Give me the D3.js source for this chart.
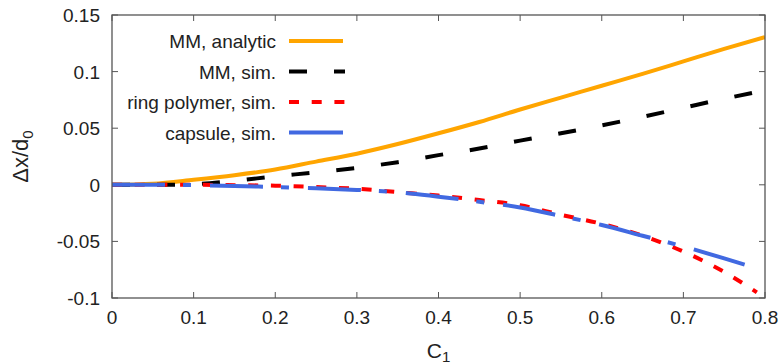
<!DOCTYPE html>
<html>
<head>
<meta charset="utf-8">
<script src="https://cdn.jsdelivr.net/npm/d3@7"></script>
<style>
  html, body { margin: 0; padding: 0; background: #fff; }
  svg { display: block; font-family: "Liberation Sans", Arial, Helvetica, sans-serif; }
</style>
</head>
<body>
<div id="chart"></div>
<script>
// C1 values
const c1 = [0, 0.05, 0.1, 0.15, 0.2, 0.25, 0.3, 0.35, 0.4, 0.45, 0.5, 0.55, 0.6, 0.65, 0.7, 0.75, 0.8];
const c1Ring = [0, 0.05, 0.1, 0.15, 0.2, 0.25, 0.3, 0.35, 0.4, 0.45, 0.5, 0.55, 0.6, 0.65, 0.7, 0.75, 0.79];
const c1Caps = [0, 0.05, 0.1, 0.15, 0.2, 0.25, 0.3, 0.35, 0.4, 0.45, 0.5, 0.55, 0.6, 0.65, 0.7, 0.75, 0.785];

// Δx/d0 values
const mmAnalytic = [0, 0.001, 0.0045, 0.0085, 0.0135, 0.0205, 0.0275, 0.036, 0.0455, 0.0555, 0.0665, 0.077, 0.0875, 0.098, 0.109, 0.120, 0.1305];
const mmSim = [0, 0, 0.0005, 0.0035, 0.0075, 0.011, 0.015, 0.020, 0.0262, 0.032, 0.039, 0.0455, 0.0525, 0.060, 0.068, 0.076, 0.0835];
const ringSim = [0, 0, 0, -0.0003, -0.0008, -0.002, -0.0035, -0.0065, -0.0095, -0.0135, -0.018, -0.0265, -0.0345, -0.045, -0.059, -0.077, -0.095];
const capsSim = [0, 0, -0.0003, -0.001, -0.002, -0.003, -0.0045, -0.0065, -0.0105, -0.015, -0.020, -0.0275, -0.0355, -0.045, -0.0545, -0.065, -0.0727];

const xTicks = [0, 0.1, 0.2, 0.3, 0.4, 0.5, 0.6, 0.7, 0.8];
const yTicks = [-0.1, -0.05, 0, 0.05, 0.1, 0.15];

const series = [
  { name: 'MM, analytic', xs: c1, ys: mmAnalytic, color: '#ffa500', dash: null },
  { name: 'MM, sim.', xs: c1, ys: mmSim, color: '#000000', dash: '18,27' },
  { name: 'ring polymer, sim.', xs: c1Ring, ys: ringSim, color: '#ff0000', dash: '10,12.7' },
  { name: 'capsule, sim.', xs: c1Caps, ys: capsSim, color: '#4169e1', dash: '53,18,8,19' }
];

const width = 782, height = 364;
const margin = { top: 15, right: 17, bottom: 66, left: 112 };

const svg = d3.select('#chart').append('svg')
  .attr('width', width)
  .attr('height', height);

const x = d3.scaleLinear().domain([0, 0.8]).range([margin.left, width - margin.right]);
const y = d3.scaleLinear().domain([-0.1, 0.15]).range([height - margin.bottom, margin.top]);

const frameColor = '#555';
const textColor = '#222';
const fs = 19;

svg.append('clipPath').attr('id', 'clip')
  .append('rect')
  .attr('x', x(0)).attr('y', y(0.15))
  .attr('width', x(0.8) - x(0)).attr('height', y(-0.1) - y(0.15));

// ticks (inward, mirrored)
const tl = 6;
const ticks = svg.append('g').attr('stroke', frameColor).attr('stroke-width', 1);
xTicks.forEach(t => {
  ticks.append('line').attr('x1', x(t)).attr('x2', x(t)).attr('y1', y(-0.1)).attr('y2', y(-0.1) - tl);
  ticks.append('line').attr('x1', x(t)).attr('x2', x(t)).attr('y1', y(0.15)).attr('y2', y(0.15) + tl);
});
yTicks.forEach(t => {
  ticks.append('line').attr('x1', x(0)).attr('x2', x(0) + tl).attr('y1', y(t)).attr('y2', y(t));
  ticks.append('line').attr('x1', x(0.8)).attr('x2', x(0.8) - tl).attr('y1', y(t)).attr('y2', y(t));
});

// tick labels (plain hyphen for negatives)
svg.append('g').selectAll('text').data(xTicks).join('text')
  .attr('x', d => x(d)).attr('y', height - margin.bottom + 26)
  .attr('text-anchor', 'middle').attr('font-size', fs).attr('fill', textColor)
  .text(d => String(d));
svg.append('g').selectAll('text').data(yTicks).join('text')
  .attr('x', margin.left - 12).attr('y', d => y(d) + 7)
  .attr('text-anchor', 'end').attr('font-size', fs).attr('fill', textColor)
  .text(d => String(d));

// axis titles
const xl = svg.append('text')
  .attr('x', x(0.4)).attr('y', 358)
  .attr('text-anchor', 'middle').attr('font-size', 21).attr('fill', textColor);
xl.append('tspan').text('C');
xl.append('tspan').attr('font-size', 15).attr('dy', 4).text('1');

const yl = svg.append('text')
  .attr('transform', `translate(28,${(y(-0.1) + y(0.15)) / 2}) rotate(-90)`)
  .attr('text-anchor', 'middle').attr('font-size', 22).attr('fill', textColor);
yl.append('tspan').text('Δx/d');
yl.append('tspan').attr('font-size', 15).attr('dy', 5).text('0');

// curves
const lines = svg.append('g').attr('clip-path', 'url(#clip)');
series.forEach(s => {
  const pts = s.xs.map((v, i) => [v, s.ys[i]]);
  lines.append('path')
    .datum(pts)
    .attr('fill', 'none')
    .attr('stroke', s.color)
    .attr('stroke-width', 4)
    .attr('stroke-dasharray', s.dash)
    .attr('d', d3.line().x(d => x(d[0])).y(d => y(d[1])).curve(d3.curveMonotoneX));
});

// legend (capsule sample drawn solid, as in the original key)
const legend = svg.append('g');
series.forEach((s, i) => {
  const ly = 41 + i * 30.5;
  const solidKey = !s.dash || s.dash.split(',').length > 2;
  legend.append('text')
    .attr('x', 276).attr('y', ly + 7)
    .attr('text-anchor', 'end').attr('font-size', fs).attr('fill', textColor)
    .text(s.name);
  legend.append('line')
    .attr('x1', 289).attr('x2', solidKey ? 343 : 345)
    .attr('y1', ly).attr('y2', ly)
    .attr('stroke', s.color).attr('stroke-width', 4)
    .attr('stroke-dasharray', solidKey ? null : s.dash);
});

// frame
svg.append('rect')
  .attr('x', x(0)).attr('y', y(0.15))
  .attr('width', x(0.8) - x(0)).attr('height', y(-0.1) - y(0.15))
  .attr('fill', 'none').attr('stroke', frameColor).attr('stroke-width', 1.3);
</script>
</body>
</html>
